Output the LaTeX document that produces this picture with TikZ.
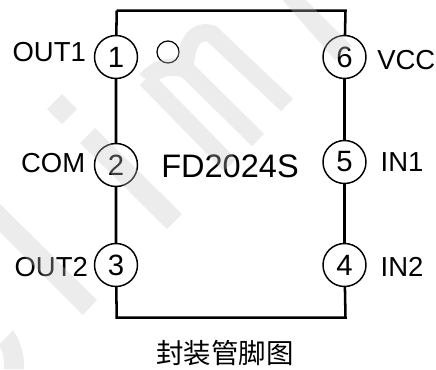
\documentclass[tikz,border=0pt]{standalone}
\usepackage{fontspec}
\setmainfont{Liberation Sans}
\newfontfamily\cjk{Noto Sans CJK SC}
\usetikzlibrary{positioning}

\begin{document}
\begin{tikzpicture}
            [x=.75pt,y=-.75pt,
            pin/.style={circle,draw,line width=1.1pt,minimum size=32.25pt,inner sep=0pt,outer sep=0pt,font=\fontsize{22}{26}\selectfont},
            lab/.style={inner sep=0pt,outer sep=0pt,font=\fontsize{20.6}{24}\selectfont},
            body/.style={line width=1.9pt,line join=miter},
            wmfill/.style={fill=black!23,opacity=.32},
            wmline/.style={draw=black!23,opacity=.32,line width=13pt}]
            \useasboundingbox (0,0) rectangle (436,369);
            \coordinate (tl) at (116.7,10.7);
            \coordinate (tr) at (345.5,10.7);
            \coordinate (bl) at (116.7,317.7);
            \coordinate (br) at (345.5,317.7);
            \node[pin](a) at (116,57) {1};
            \node[pin](b) at (116,165) {2};
            \node[pin](c) at (116,265) {3};
            \node[pin](d) at (344.5,265) {4};
            \node[pin](e) at (344.5,162) {5};
            \node[pin](f) at (344.5,57) {6};
            \node[lab](la)[left=6.5pt of a,yshift=3.7pt] {OUT1};
            \node[lab](lb)[left=7pt of b,yshift=1.5pt] {COM};
            \node[lab](lc)[left=5pt of c,yshift=-1.5pt] {OUT2};
            \node[lab](ld)[right=11pt of d,yshift=-1.5pt] {IN2};
            \node[lab](le)[right=11pt of e] {IN1};
            \node[lab](lf)[right=8.5pt of f,yshift=-2.5pt] {VCC};
            \node[circle,draw,line width=.9pt,minimum size=16.5pt,inner sep=0pt](dot) at (168,52) {};
            \node[lab,font=\fontsize{24.4}{28}\selectfont](chip) at (230,166.5) {FD2024S};
            \node[lab,font=\fontsize{20.6}{24}\selectfont\cjk](cap) at (225,353) {封装管脚图};
            \draw[body](tl) -- (a) (a) -- (b) (b) -- (c) (c) -- (bl) -- (br) -- (d) (d) -- (e) (e) -- (f) (f) -- (tr) -- (tl);
            % watermark lies over the drawing
            \begin{scope}
            \clip (0,0) rectangle (436,369);
            \fill[wmfill] (62,94) -- (77,109) -- (62,124) -- (47,109) -- cycle;
            \fill[wmfill] (95,128) -- (182,214) -- (167,229) -- (80,143) -- cycle;
            \fill[wmfill] (0,204) -- (97,300) -- (83,315) -- (0,232) -- cycle;
            \fill[wmfill] (0,344) -- (13,330) .. controls (20,340) and (25,355) .. (24,369) -- (4,369) .. controls (4,358) and (3,352) .. (0,347) -- cycle;
            \fill[wmfill] (280,-3) -- (303,-3) -- (352,46) -- (335,60) -- cycle;
            \draw[wmline] (146,79) -- (230,165)
            (146,80) .. controls (156,68) and (171,64) .. (187,70) -- (258,140)
            (185,68) .. controls (186,45) and (194,28) .. (212,34) -- (287,105);
            \end{scope}
        \end{tikzpicture}
\end{document}
